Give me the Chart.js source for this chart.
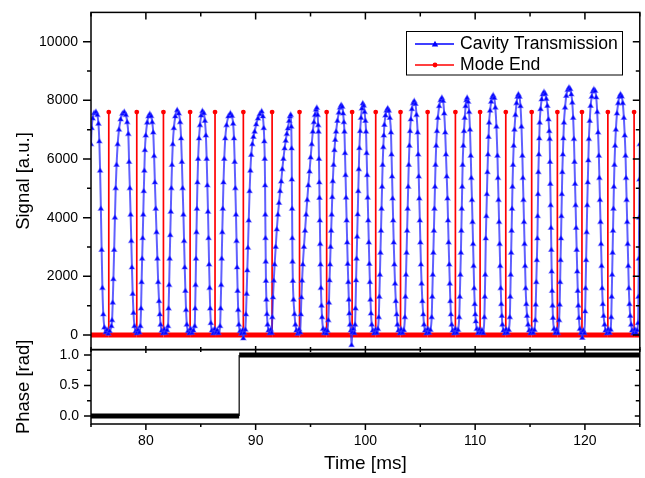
<!DOCTYPE html>
<html>
<head>
<meta charset="utf-8">
<script src="https://cdn.jsdelivr.net/npm/chart.js"></script>
<style>
  html, body { margin: 0; padding: 0; background: #fff; }
  canvas { display: block; }
</style>
</head>
<body>
<canvas id="signalChart" width="645" height="478"></canvas>
<script>
    // readings taken off the trace: [time ms, signal a.u.], one lobe per line
    const cavityReadings = [
        [75.00,6500],[75.06,7050],[75.15,7380],[75.28,7560],[75.45,7600],[75.58,7500],[75.68,7200],[75.76,6600],[75.83,5600],[75.90,4300],[75.97,2900],[76.04,1600],[76.12,700],[76.22,250],[76.34,90],[76.46,170],[76.58,40],[76.70,130],
        [76.86,300],[76.92,500],[76.98,1100],[77.04,1900],[77.11,2900],[77.18,4000],[77.25,5000],[77.33,5800],[77.43,6500],[77.55,7000],[77.70,7350],[77.86,7540],[78.03,7600],[78.18,7500],[78.30,7250],[78.40,6850],[78.47,5900],[78.54,5000],[78.61,4100],[78.67,3200],[78.73,2300],[78.80,1400],[78.87,750],[78.96,300],[79.06,120],[79.17,50],[79.28,170],[79.40,80],
        [79.50,300],[79.56,900],[79.61,1800],[79.66,2600],[79.71,3300],[79.76,4100],[79.81,4900],[79.86,5600],[79.91,6300],[79.99,6800],[80.12,7240],[80.24,7450],[80.36,7530],[80.48,7460],[80.58,7250],[80.67,6900],[80.75,6100],[80.82,5200],[80.90,4300],[80.97,3500],[81.05,2600],[81.12,1800],[81.20,1150],[81.27,700],[81.34,350],[81.44,140],[81.56,50],[81.68,190],[81.80,70],[81.92,160],
        [82.02,300],[82.07,900],[82.12,1700],[82.17,2600],[82.22,3400],[82.27,4200],[82.32,5000],[82.38,5800],[82.45,6500],[82.55,7050],[82.68,7450],[82.85,7660],[83.00,7550],[83.12,7250],[83.21,6700],[83.28,5900],[83.35,5000],[83.42,4100],[83.48,3200],[83.54,2300],[83.60,1500],[83.66,850],[83.73,350],[83.84,130],[83.96,50],[84.08,200],[84.20,70],[84.32,150],
        [84.45,300],[84.49,900],[84.53,1700],[84.57,2600],[84.61,3500],[84.65,4300],[84.70,5200],[84.76,6000],[84.84,6700],[84.93,7150],[85.04,7480],[85.15,7630],[85.28,7560],[85.38,7300],[85.47,6800],[85.54,6000],[85.60,5100],[85.66,4200],[85.71,3300],[85.76,2400],[85.81,1600],[85.86,900],[85.92,400],[86.02,150],[86.14,50],[86.26,200],[86.38,80],[86.50,160],[86.62,60],
        [86.76,300],[86.81,900],[86.86,1700],[86.91,2600],[86.96,3500],[87.01,4300],[87.07,5200],[87.14,6000],[87.23,6700],[87.35,7150],[87.52,7450],[87.70,7550],[87.84,7470],[87.95,7200],[88.03,6700],[88.09,5900],[88.15,5000],[88.21,4100],[88.26,3200],[88.31,2300],[88.36,1500],[88.41,850],[88.47,350],[88.58,130],[88.70,40],[88.82,160],[88.88,-120],[88.96,60],[89.06,180],
        [89.12,700],[89.18,1400],[89.24,2200],[89.30,2970],[89.37,3900],[89.45,4900],[89.52,5600],[89.60,6140],[89.70,6500],[89.80,6750],[89.91,6930],[90.05,7180],[90.21,7380],[90.38,7530],[90.55,7620],[90.66,7450],[90.74,7050],[90.79,6600],[90.83,6000],[90.86,5100],[90.88,4100],[90.90,3300],[90.92,2500],[90.94,1840],[90.98,1200],[91.03,710],[91.09,350],[91.18,150],[91.28,50],[91.38,180],[91.46,70],
        [91.52,600],[91.58,1280],[91.65,1850],[91.73,2400],[91.83,3000],[91.93,3600],[92.03,4100],[92.13,4500],[92.23,4900],[92.33,5230],[92.43,5650],[92.53,6000],[92.64,6360],[92.74,6620],[92.84,6850],[92.94,7040],[93.05,7300],[93.13,7450],[93.20,7500],[93.25,7100],[93.28,6360],[93.30,5300],[93.32,4300],[93.34,3300],[93.36,2500],[93.39,1840],[93.45,1200],[93.54,710],[93.62,350],[93.72,150],[93.84,40],[93.96,190],[94.06,80],
        [94.12,700],[94.17,1280],[94.23,1850],[94.30,2400],[94.40,3000],[94.50,3550],[94.60,4100],[94.70,4600],[94.80,5100],[94.91,5570],[95.01,6050],[95.11,6500],[95.21,6930],[95.31,7250],[95.41,7500],[95.50,7680],[95.58,7740],[95.65,7500],[95.70,7150],[95.73,6930],[95.77,6000],[95.80,5200],[95.82,4670],[95.85,3900],[95.88,3100],[95.91,2400],[95.95,1600],[96.00,1000],[96.05,600],[96.14,200],[96.24,60],[96.34,170],[96.44,50],[96.54,140],
        [96.62,500],[96.68,1100],[96.73,1860],[96.78,2400],[96.83,3000],[96.88,3550],[96.93,4100],[96.98,4700],[97.03,5240],[97.10,5800],[97.18,6300],[97.25,6650],[97.33,6930],[97.45,7300],[97.58,7580],[97.69,7750],[97.79,7830],[97.89,7780],[97.97,7550],[98.04,7250],[98.09,6930],[98.14,6200],[98.19,5450],[98.24,4680],[98.29,3900],[98.34,3150],[98.39,2420],[98.44,1800],[98.49,1200],[98.54,730],[98.60,350],[98.68,150],[98.74,-350],[98.80,80],[98.90,200],[99.00,60],
        [99.06,350],[99.10,900],[99.15,1860],[99.20,2600],[99.25,3350],[99.30,4110],[99.35,4900],[99.40,5650],[99.45,6370],[99.52,6950],[99.60,7400],[99.68,7720],[99.76,7890],[99.85,7820],[99.93,7600],[100.00,7300],[100.06,6930],[100.11,6200],[100.16,5450],[100.21,4680],[100.26,3900],[100.31,3150],[100.36,2420],[100.41,1800],[100.46,1200],[100.51,730],[100.58,350],[100.68,150],[100.80,50],[100.92,180],[101.04,70],[101.14,200],
        [101.22,600],[101.27,1300],[101.32,2050],[101.37,2800],[101.42,3550],[101.47,4300],[101.52,5050],[101.57,5800],[101.63,6400],[101.68,6800],[101.73,7160],[101.83,7480],[101.93,7650],[102.03,7720],[102.13,7650],[102.23,7400],[102.33,6900],[102.38,6150],[102.43,5400],[102.48,4650],[102.53,3900],[102.58,3150],[102.64,2400],[102.70,1750],[102.77,1150],[102.85,700],[102.92,350],[103.02,150],[103.14,50],[103.26,190],[103.38,70],[103.50,160],
        [103.60,600],[103.65,1300],[103.70,2050],[103.75,2800],[103.80,3550],[103.85,4300],[103.90,5050],[103.95,5800],[104.01,6450],[104.07,6950],[104.14,7350],[104.24,7700],[104.35,7900],[104.45,7970],[104.56,7880],[104.66,7500],[104.76,6900],[104.81,6150],[104.86,5400],[104.91,4650],[104.96,3900],[105.01,3150],[105.06,2400],[105.12,1750],[105.19,1150],[105.27,700],[105.34,350],[105.44,150],[105.56,50],[105.68,200],[105.80,70],[105.92,170],
        [106.04,600],[106.09,1300],[106.14,2050],[106.19,2800],[106.24,3550],[106.29,4300],[106.34,5050],[106.39,5800],[106.45,6450],[106.52,6950],[106.60,7400],[106.72,7800],[106.85,8000],[106.97,8080],[107.08,7980],[107.18,7550],[107.27,6900],[107.34,6150],[107.41,5400],[107.48,4650],[107.53,3900],[107.58,3150],[107.64,2400],[107.69,1750],[107.74,1150],[107.79,700],[107.86,350],[107.96,150],[108.08,50],[108.20,200],[108.32,70],[108.44,170],
        [108.55,600],[108.60,1300],[108.65,2050],[108.70,2800],[108.74,3550],[108.78,4300],[108.82,5050],[108.86,5800],[108.92,6450],[108.98,6950],[109.05,7400],[109.13,7800],[109.20,8000],[109.27,8080],[109.36,7950],[109.45,7600],[109.53,7000],[109.60,6110],[109.65,5350],[109.71,4600],[109.76,3850],[109.81,3100],[109.86,2350],[109.91,1590],[109.96,1050],[110.01,700],[110.06,460],[110.15,200],[110.26,60],[110.38,190],[110.50,70],[110.62,160],[110.74,60],
        [110.84,600],[110.88,1300],[110.92,2050],[110.97,3290],[111.02,4050],[111.07,4800],[111.12,5550],[111.17,6150],[111.22,6750],[111.27,7240],[111.36,7650],[111.46,7950],[111.55,8100],[111.64,8170],[111.74,8080],[111.84,7750],[111.94,7100],[112.03,6110],[112.08,5350],[112.13,4600],[112.18,3850],[112.23,3100],[112.28,2350],[112.33,1590],[112.38,1050],[112.43,650],[112.48,350],[112.58,150],[112.70,50],[112.82,190],[112.94,70],[113.06,170],
        [113.16,600],[113.20,1300],[113.24,2050],[113.28,2800],[113.32,3550],[113.36,4300],[113.40,5050],[113.45,5800],[113.51,6450],[113.58,7000],[113.67,7500],[113.77,7900],[113.86,8120],[113.94,8200],[114.04,8120],[114.13,7800],[114.22,7100],[114.30,6110],[114.35,5350],[114.40,4600],[114.45,3850],[114.50,3100],[114.55,2350],[114.60,1590],[114.66,1050],[114.73,650],[114.82,350],[114.92,150],[115.04,50],[115.16,180],[115.28,70],[115.40,170],
        [115.48,500],[115.52,1030],[115.57,1800],[115.62,2550],[115.67,3290],[115.70,4050],[115.73,4800],[115.76,5550],[115.80,6150],[115.84,6700],[115.88,7240],[115.96,7700],[116.06,8030],[116.16,8200],[116.27,8280],[116.38,8220],[116.48,8050],[116.58,7810],[116.68,7350],[116.75,6950],[116.79,6680],[116.82,5900],[116.85,5150],[116.88,4420],[116.91,3650],[116.94,2900],[116.97,2160],[117.01,1500],[117.05,1000],[117.09,580],[117.18,200],[117.30,60],[117.42,180],[117.54,60],
        [117.65,500],[117.70,1030],[117.74,1800],[117.78,2550],[117.82,3290],[117.86,4050],[117.90,4800],[117.94,5550],[117.99,6150],[118.04,6700],[118.09,7240],[118.19,7750],[118.30,8150],[118.43,8350],[118.55,8430],[118.66,8380],[118.76,8200],[118.85,7920],[118.93,7400],[119.00,6680],[119.05,5900],[119.10,5150],[119.15,4420],[119.20,3650],[119.25,2900],[119.30,2160],[119.35,1500],[119.40,1000],[119.45,580],[119.54,200],[119.64,60],[119.76,-100],[119.86,150],[119.96,60],
        [120.02,800],[120.06,1590],[120.11,2550],[120.16,3500],[120.21,4420],[120.26,5200],[120.31,5950],[120.36,6680],[120.44,7300],[120.52,7810],[120.62,8120],[120.72,8300],[120.82,8370],[120.93,8320],[121.03,8100],[121.12,7600],[121.20,6900],[121.27,6110],[121.32,5350],[121.37,4600],[121.42,3850],[121.47,3100],[121.52,2350],[121.57,1590],[121.63,1050],[121.70,650],[121.79,350],[121.88,150],[122.00,50],[122.12,190],[122.24,70],[122.34,180],
        [122.40,600],[122.44,1300],[122.48,2050],[122.52,2800],[122.56,3550],[122.60,4300],[122.64,5050],[122.69,5800],[122.75,6450],[122.82,7000],[122.92,7550],[123.03,7900],[123.14,8120],[123.24,8200],[123.35,8130],[123.45,7900],[123.55,7400],[123.63,6800],[123.70,6110],[123.75,5350],[123.80,4600],[123.85,3850],[123.90,3100],[123.95,2350],[124.00,1590],[124.06,1050],[124.13,650],[124.21,350],[124.30,150],[124.42,50],[124.54,190],[124.66,70],[124.76,160],
        [124.84,400],[124.88,1300],[124.91,2600],[124.94,4000],[124.97,5300],[125.00,6500],[125.04,7300]
    ];

    // mode end markers (ms) and their level
    const modeEndTime = [76.62, 79.17, 81.60, 84.03, 86.30, 88.88, 91.50, 94.00, 96.47, 98.79, 100.94,
        103.20, 105.67, 108.20, 110.45, 112.79, 115.15, 117.49, 119.73, 122.09, 124.48];
    const modeEndLevel = 7600;

    // phase step
    const phaseTime = [75, 88.5, 88.5, 125];
    const phaseValue = [0, 0, 1, 1];

    // axis ticks
    const timeTicks = [80, 90, 100, 110, 120];
    const timeMinor = [75, 85, 95, 105, 115, 125];
    const signalTicks = [0, 2000, 4000, 6000, 8000, 10000];
    const signalMinor = [1000, 3000, 5000, 7000, 9000];
    const phaseTicks = [0, 0.5, 1];
    const phaseMinor = [0.25, 0.75];

    const BLUE = '#0000ff';
    const BLUE_LINE = 'rgba(35,35,255,0.72)';
    const RED = '#ff0000';
    const FONT = "'Liberation Sans', Arial, sans-serif";

    Chart.defaults.font.family = FONT;
    Chart.defaults.color = '#000';

    const cavityPoints = cavityReadings.map(r => ({x: r[0], y: r[1]}));

    const modePoints = [{x: 75, y: 0}];
    modeEndTime.forEach(t => {
        modePoints.push({x: t, y: 0}, {x: t, y: modeEndLevel}, {x: t, y: 0});
    });
    modePoints.push({x: 125, y: 0});

    const phasePoints = phaseTime.map((t, i) => ({x: t, y: phaseValue[i]}));

    function setTicks(values) {
        return scale => { scale.ticks = values.map(v => ({value: v})); };
    }

    // frame, tick marks, phase title and legend in the Origin look
    const framePlugin = {
        id: 'frame',
        afterDraw(chart) {
            const ctx = chart.ctx;
            const x = chart.scales.x;
            const ys = chart.scales.ySignal;
            const yp = chart.scales.yPhase;
            ctx.save();
            ctx.strokeStyle = '#000';
            ctx.lineWidth = 1.5;
            ctx.strokeRect(x.left, ys.top, x.right - x.left, ys.bottom - ys.top);
            ctx.strokeRect(x.left, yp.top, x.right - x.left, yp.bottom - yp.top);

            ctx.beginPath();
            function hTick(py, x0, x1) { ctx.moveTo(x0, py); ctx.lineTo(x1, py); }
            function vTick(px, y0, y1) { ctx.moveTo(px, y0); ctx.lineTo(px, y1); }

            // signal panel
            signalTicks.forEach(v => {
                const py = ys.getPixelForValue(v);
                hTick(py, x.left - 8, x.left);
                hTick(py, x.right - 7, x.right);
            });
            signalMinor.forEach(v => {
                const py = ys.getPixelForValue(v);
                hTick(py, x.left - 4, x.left);
                hTick(py, x.right - 4, x.right);
            });
            timeTicks.forEach(v => {
                const px = x.getPixelForValue(v);
                vTick(px, ys.top, ys.top + 7);
                vTick(px, ys.bottom - 3.5, ys.bottom + 3.5);
                vTick(px, yp.bottom, yp.bottom + 6);
            });
            timeMinor.forEach(v => {
                const px = x.getPixelForValue(v);
                vTick(px, ys.top, ys.top + 4);
                vTick(px, ys.bottom - 2.5, ys.bottom + 2.5);
                vTick(px, yp.bottom, yp.bottom + 3);
            });
            // phase panel
            phaseTicks.forEach(v => {
                const py = yp.getPixelForValue(v);
                hTick(py, x.left - 7, x.left);
                hTick(py, x.right - 5, x.right);
            });
            phaseMinor.forEach(v => {
                const py = yp.getPixelForValue(v);
                hTick(py, x.left - 4, x.left);
                hTick(py, x.right - 4, x.right);
            });
            ctx.stroke();

            // phase axis title (drawn here so it is not squeezed into the short axis)
            ctx.save();
            ctx.translate(23.5, (yp.top + yp.bottom) / 2);
            ctx.rotate(-Math.PI / 2);
            ctx.fillStyle = '#000';
            ctx.font = '18.5px ' + FONT;
            ctx.textAlign = 'center';
            ctx.textBaseline = 'middle';
            ctx.fillText('Phase [rad]', 0, 0);
            ctx.restore();

            // legend
            const lx = 406.5, ly = 31.5, lw = 216, lh = 43.5;
            ctx.fillStyle = '#fff';
            ctx.fillRect(lx, ly, lw, lh);
            ctx.lineWidth = 1;
            ctx.strokeStyle = '#000';
            ctx.strokeRect(lx, ly, lw, lh);

            const sets = chart.data.datasets;
            const rows = [44, 65];
            [0, 1].forEach((di, k) => {
                const ds = sets[di];
                const y = rows[k];
                ctx.strokeStyle = ds.legendColor;
                ctx.lineWidth = 1.3;
                ctx.beginPath();
                ctx.moveTo(415, y);
                ctx.lineTo(454, y);
                ctx.stroke();
                ctx.fillStyle = ds.legendColor;
                ctx.beginPath();
                if (ds.pointStyle === 'triangle') {
                    ctx.moveTo(435, y - 3.2);
                    ctx.lineTo(438.2, y + 2.4);
                    ctx.lineTo(431.8, y + 2.4);
                    ctx.closePath();
                } else {
                    ctx.arc(435, y, 2.4, 0, Math.PI * 2);
                }
                ctx.fill();
                ctx.fillStyle = '#000';
                ctx.font = '17.6px ' + FONT;
                ctx.textAlign = 'left';
                ctx.textBaseline = 'middle';
                ctx.fillText(ds.label, 460, y);
            });
            ctx.restore();
        }
    };

    new Chart(document.getElementById('signalChart'), {
        type: 'line',
        data: {
            datasets: [{
                label: 'Cavity Transmission',
                data: cavityPoints,
                xAxisID: 'x',
                yAxisID: 'ySignal',
                legendColor: BLUE,
                borderColor: BLUE_LINE,
                borderWidth: 2,
                cubicInterpolationMode: 'monotone',
                pointStyle: 'triangle',
                pointRadius: 3,
                pointBackgroundColor: BLUE,
                pointBorderColor: 'rgba(70,70,255,0.45)',
                pointBorderWidth: 1.2
            }, {
                label: 'Mode End',
                data: modePoints,
                xAxisID: 'x',
                yAxisID: 'ySignal',
                legendColor: RED,
                borderColor: RED,
                borderWidth: 1.6,
                segment: {
                    borderWidth: c => (c.p0.parsed.y === 0 && c.p1.parsed.y === 0) ? 5 : 1.7
                },
                pointStyle: 'circle',
                pointRadius: c => (c.raw && c.raw.y > 0) ? 2.4 : 0,
                pointBackgroundColor: RED,
                pointBorderColor: RED,
                pointBorderWidth: 0
            }, {
                label: 'Phase',
                data: phasePoints,
                xAxisID: 'x',
                yAxisID: 'yPhase',
                borderColor: '#000',
                borderWidth: 1,
                segment: {
                    borderWidth: c => (c.p0.parsed.y === c.p1.parsed.y) ? 5 : 1.2
                },
                pointRadius: 0
            }]
        },
        options: {
            responsive: false,
            animation: false,
            events: [],
            layout: {padding: {top: 9, right: 4, left: 0, bottom: 0}},
            plugins: {
                legend: {display: false},
                tooltip: {enabled: false}
            },
            scales: {
                x: {
                    type: 'linear',
                    position: 'bottom',
                    min: 75,
                    max: 125,
                    afterBuildTicks: setTicks(timeTicks),
                    afterFit: s => { s.height = 54; },
                    grid: {display: false, drawTicks: true, tickLength: 6},
                    border: {display: false},
                    ticks: {font: {size: 14}, color: '#000', padding: 3, maxRotation: 0,
                        callback: v => String(v)},
                    title: {display: true, text: 'Time [ms]', font: {size: 19}, color: '#000',
                        padding: {top: 0, bottom: 2.5}}
                },
                ySignal: {
                    type: 'linear',
                    position: 'left',
                    stack: 'panels',
                    stackWeight: 340,
                    weight: 2,
                    min: -500,
                    max: 11000,
                    afterBuildTicks: setTicks(signalTicks),
                    afterFit: s => { s.width = 91; },
                    grid: {display: false, drawTicks: true, tickLength: 9},
                    border: {display: false},
                    ticks: {font: {size: 14}, color: '#000', padding: 4, callback: v => String(v)},
                    title: {display: true, text: 'Signal [a.u.]', font: {size: 18.5}, color: '#000',
                        padding: {top: 12.5, bottom: 0}}
                },
                yPhase: {
                    type: 'linear',
                    position: 'left',
                    stack: 'panels',
                    stackWeight: 75,
                    weight: 1,
                    min: -0.13,
                    max: 1.09,
                    afterBuildTicks: setTicks(phaseTicks),
                    afterFit: s => { s.width = 91; },
                    grid: {display: false, drawTicks: true, tickLength: 8},
                    border: {display: false},
                    ticks: {font: {size: 14}, color: '#000', padding: 4, callback: v => v.toFixed(1)}
                }
            }
        },
        plugins: [framePlugin]
    });
</script>
</body>
</html>
